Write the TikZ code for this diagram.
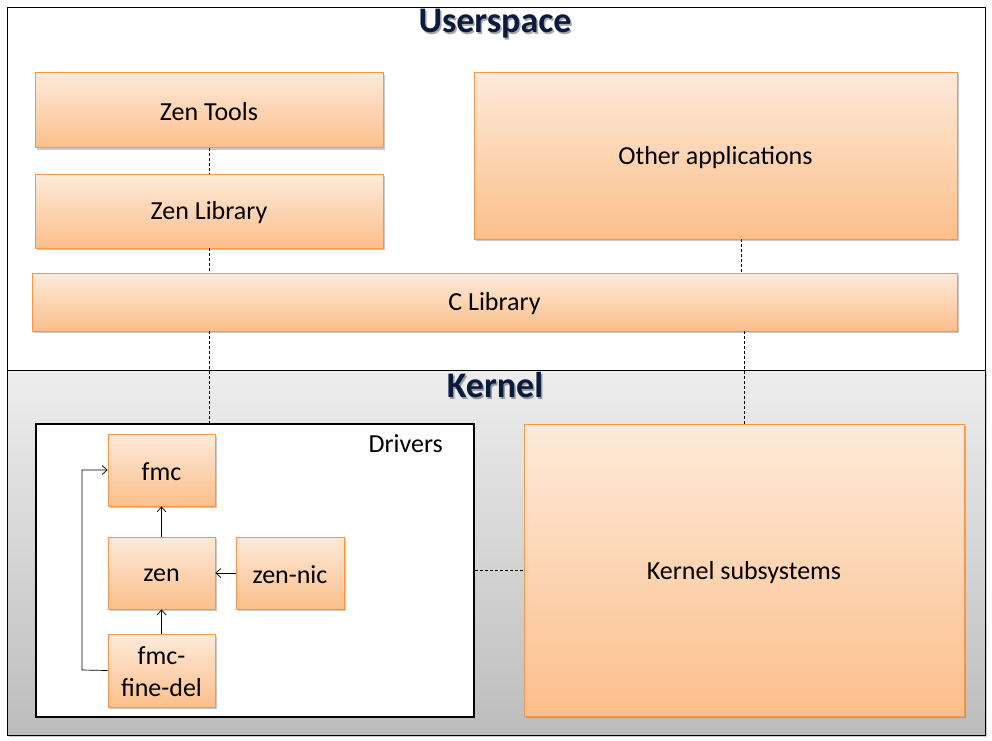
\documentclass[tikz,border=0pt]{standalone}
\usepackage{fontspec}
\setmainfont{Carlito}
\usetikzlibrary{arrows.meta,shadows}
\definecolor{boxtop}{HTML}{FDEADA}
\definecolor{boxbot}{HTML}{FCBF8B}
\definecolor{boxline}{HTML}{F79646}
\definecolor{titlecol}{HTML}{0B1B3F}
\tikzset{
  orangebox/.style={draw=boxline, line width=0.8pt, top color=boxtop, bottom color=boxbot,
    drop shadow={shadow xshift=1.5pt, shadow yshift=-2pt, opacity=0.35, fill=black!60},
    font=\fontsize{26}{32}\selectfont, align=center, inner sep=0pt},
  conn/.style={densely dashed, line width=0.7pt},
  arr/.style={-{Straight Barb[length=5pt,width=9pt]}, line width=0.7pt},
  titletext/.style={font=\bfseries\fontsize{36}{40}\selectfont, text=titlecol},
  titleglow/.style={font=\bfseries\fontsize{36}{40}\selectfont, text=black, opacity=0.35},
  lbl/.style={font=\fontsize{26}{32}\selectfont, align=center, inner sep=0pt},
}
\begin{document}
\begin{tikzpicture}[x=1pt,y=-1pt]
\useasboundingbox (0,0) rectangle (992,740);
% frames
\fill[black!20] (9,372) rectangle (987,737);
\draw[fill=white, line width=0.8pt] (7,7) rectangle (985,370);
\draw[top color=black!7, bottom color=black!26, line width=0.8pt] (7,370) rectangle (985,735);
% titles
\node[titleglow] (usg) at (496.5,25.5) {Userspace};
\node[titletext] (us) at (495,24) {Userspace};
\node[titleglow] (keg) at (496.5,386.5) {Kernel};
\node[titletext] (ke) at (495,385) {Kernel};
% userspace boxes
\node[orangebox, minimum width=348pt, minimum height=75pt] (tools) at (209,110) {};
\node[lbl] (toolsl) at (209,112) {Zen Tools};
\node[orangebox, minimum width=348pt, minimum height=74pt] (lib) at (209,211) {};
\node[lbl] (libl) at (209,213) {Zen Library};
\node[orangebox, minimum width=483pt, minimum height=167pt] (other) at (715.5,155.5) {};
\node[lbl] (otherl) at (715.5,158) {Other applications};
\node[orangebox, minimum width=925pt, minimum height=58pt] (clib) at (494.5,302) {};
\node[lbl] (clibl) at (494.5,304) {C Library};
% kernel
\node[draw, line width=2.8pt, fill=white, minimum width=438pt, minimum height=293pt, inner sep=0pt] (drv) at (255,570.5) {};
\node[lbl, anchor=north east] (drvlab) at (443,434) {Drivers};
\node[orangebox, minimum width=440pt, minimum height=292pt] (ks) at (744,570) {};
\node[lbl] (ksl) at (744,573) {Kernel subsystems};
\node[orangebox, minimum width=107pt, minimum height=72pt] (fmc) at (161.5,470) {};
\node[lbl] (fmcl) at (161.5,472) {fmc};
\node[orangebox, minimum width=107pt, minimum height=72pt] (zen) at (161.5,573) {};
\node[lbl] (zenl) at (161.5,575) {zen};
\node[orangebox, minimum width=108pt, minimum height=72pt] (nic) at (290,573) {};
\node[lbl] (nicl) at (290,575) {zen-nic};
\node[orangebox, minimum width=107pt, minimum height=73pt] (fine) at (161.5,670.5) {};
\node[lbl] (finel) at (161.5,672) {fmc-\\fine-del};
% dashed connectors
\draw[conn] (tools.south) -- (lib.north);
\draw[conn] (lib.south) -- (lib.south |- clib.north);
\draw[conn] (741,0 |- other.south) -- (741,0 |- clib.north);
\draw[conn] (209,0 |- clib.south) -- (209,0 |- drv.north);
\draw[conn] (744,0 |- clib.south) -- (ks.north);
\draw[conn] (drv.east |- ks.west) -- (ks.west);
% arrows
\draw[arr] (zen.north) -- (fmc.south);
\draw[arr] (fine.north) -- (zen.south);
\draw[arr] (nic.west) -- (zen.east);
\coordinate (lb) at (82,670);
\coordinate (lt) at (82,470);
\draw[arr] (fine.west) -- (lb) -- (lt) -- (fmc.west);
\end{tikzpicture}
\end{document}
